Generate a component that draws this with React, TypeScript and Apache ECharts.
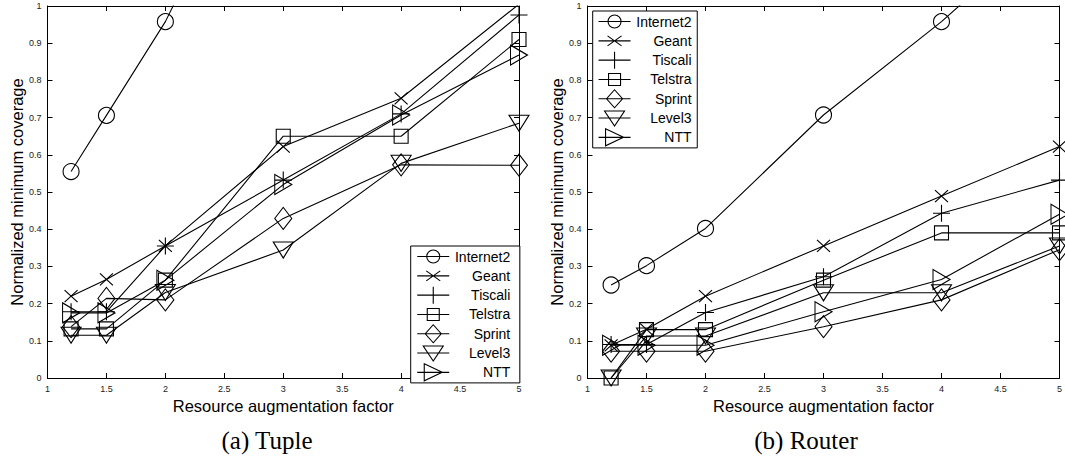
import React, { useEffect, useRef } from "react";
import * as echarts from "echarts";

// ---------------- data ----------------
const factors = [1.2, 1.5, 2, 3, 4, 5];
const seriesNames = ["Internet2", "Geant", "Tiscali", "Telstra", "Sprint", "Level3", "NTT"];

// (a) Tuple
const tupleInternet2 = [0.555, 0.706, 0.958, 1.6, 2.2, 2.8];
const tupleGeant = [0.22, 0.265, 0.355, 0.622, 0.752, 1.005];
const tupleTiscali = [0.178, 0.178, 0.355, 0.532, 0.71, 0.976];
const tupleTelstra = [0.132, 0.132, 0.263, 0.65, 0.65, 0.91];
const tupleSprint = [0.138, 0.214, 0.21, 0.429, 0.573, 0.572];
const tupleLevel3 = [0.115, 0.115, 0.23, 0.344, 0.577, 0.685];
const tupleNTT = [0.175, 0.175, 0.263, 0.52, 0.707, 0.868];

// (b) Router
const routerInternet2 = [0.25, 0.302, 0.402, 0.707, 0.958, 1.24];
const routerGeant = [0.088, 0.131, 0.22, 0.355, 0.489, 0.622];
const routerTiscali = [0.09, 0.09, 0.176, 0.272, 0.443, 0.532];
const routerTelstra = [0.0, 0.13, 0.13, 0.263, 0.39, 0.39];
const routerSprint = [0.072, 0.072, 0.072, 0.138, 0.21, 0.345];
const routerLevel3 = [0.0, 0.113, 0.113, 0.229, 0.229, 0.355];
const routerNTT = [0.088, 0.088, 0.088, 0.178, 0.265, 0.44];

const xMin = 1;
const xMax = 5;
const xStep = 0.5;
const yMin = 0;
const yMax = 1;
const yStep = 0.1;

const xTitle = "Resource augmentation factor";
const yTitle = "Normalized minimum coverage";
const captions = ["(a) Tuple", "(b) Router"];

const tupleValues = [tupleInternet2, tupleGeant, tupleTiscali, tupleTelstra, tupleSprint, tupleLevel3, tupleNTT];
const routerValues = [routerInternet2, routerGeant, routerTiscali, routerTelstra, routerSprint, routerLevel3, routerNTT];

// ---------------- styles ----------------
const SANS = '"Liberation Sans", Arial, Helvetica, sans-serif';
const SERIF = '"Liberation Serif", "Times New Roman", serif';

const markers: Record<string, { symbol: string; size: number | number[]; icon: string }> = {
  Internet2: {
    symbol: "circle",
    size: 16,
    icon: "M22.5 9 A6.5 6.5 0 1 1 9.5 9 A6.5 6.5 0 1 1 22.5 9 Z",
  },
  Geant: {
    symbol: "path://M0 0 L10 10 M10 0 L0 10",
    size: [13, 12],
    icon: "M9 4 L23 14 M23 4 L9 14",
  },
  Tiscali: {
    symbol: "path://M5 0 L5 10 M0 5 L10 5",
    size: 17,
    icon: "M16 0.5 L16 17.5",
  },
  Telstra: {
    symbol: "path://M0 0 L10 0 L10 10 L0 10 Z",
    size: 14,
    icon: "M10 3 L22 3 L22 15 L10 15 Z",
  },
  Sprint: {
    symbol: "path://M5 0 L10 5 L5 10 L0 5 Z",
    size: [17, 22],
    icon: "M16 0 L24 9 L16 18 L8 9 Z",
  },
  Level3: {
    symbol: "path://M0 0 L10 0 L5 10 Z",
    size: [20, 16],
    icon: "M6 2 L26 2 L16 17 Z",
  },
  NTT: {
    symbol: "path://M0 0 L10 5 L0 10 Z",
    size: [17, 20],
    icon: "M7 0.5 L25 9 L7 17.5 Z",
  },
};

const legendIcon = (name: string) => `path://M0 0 M32 18 M0 9 L32 9 ${markers[name].icon}`;

const grids = [
  { left: 47.5, top: 6, width: 471.5, height: 372 },
  { left: 587.5, top: 6, width: 472, height: 372 },
];

const axisLineStyle = { show: true, onZero: false, lineStyle: { color: "#000", width: 1 } };
const tickStyle = { show: true, inside: true, length: 5, lineStyle: { color: "#000", width: 1 } };

function xAxes(gi: number) {
  const common = {
    type: "value",
    gridIndex: gi,
    min: xMin,
    max: xMax,
    interval: xStep,
    axisLine: axisLineStyle,
    axisTick: tickStyle,
    splitLine: { show: false },
  };
  return [
    {
      ...common,
      position: "bottom",
      name: xTitle,
      nameLocation: "middle",
      nameGap: 16,
      nameTextStyle: { fontSize: 16.5, color: "#000", fontFamily: SANS },
      axisLabel: { fontSize: 9, color: "#222", margin: 6, fontFamily: SANS },
    },
    { ...common, position: "top", axisLabel: { show: false } },
  ];
}

function yAxes(gi: number) {
  const common = {
    type: "value",
    gridIndex: gi,
    min: yMin,
    max: yMax,
    interval: yStep,
    axisLine: axisLineStyle,
    axisTick: tickStyle,
    splitLine: { show: false },
  };
  return [
    {
      ...common,
      position: "left",
      name: yTitle,
      nameLocation: "middle",
      nameGap: 22,
      nameTextStyle: { fontSize: 16.5, color: "#000", fontFamily: SANS },
      axisLabel: { fontSize: 9, color: "#222", margin: 6, fontFamily: SANS },
    },
    { ...common, position: "right", axisLabel: { show: false } },
  ];
}

function buildSeries(values: number[][], axisIndex: number) {
  return seriesNames.map((name, k) => ({
    type: "line",
    name,
    xAxisIndex: axisIndex,
    yAxisIndex: axisIndex,
    data: factors.map((f, i) => [f, values[k][i]]),
    symbol: markers[name].symbol,
    symbolSize: markers[name].size,
    showAllSymbol: true,
    clip: true,
    lineStyle: { color: "#000", width: 1.1 },
    itemStyle: { color: "rgba(0,0,0,0)", borderColor: "#000", borderWidth: 1.1 },
    emphasis: { disabled: true },
  }));
}

function legend(left: number, top: number, padding: number[]) {
  return {
    show: true,
    orient: "vertical",
    left,
    top,
    padding,
    itemWidth: 32,
    itemHeight: 18,
    itemGap: 0.2,
    itemTextGap: 5,
    selectedMode: false,
    backgroundColor: "#fff",
    borderColor: "#000",
    borderWidth: 1,
    borderRadius: 0,
    symbolKeepAspect: true,
    itemStyle: { color: "rgba(0,0,0,0)", borderColor: "#000", borderWidth: 1.1 },
    formatter: "{r|{name}}",
    textStyle: {
      fontSize: 14,
      color: "#000",
      fontFamily: SANS,
      rich: { r: { width: 56, align: "right", fontSize: 14, color: "#000", fontFamily: SANS } },
    },
    data: seriesNames.map((name) => ({ name, icon: legendIcon(name) })),
  };
}

export default function App() {
  const ref = useRef<HTMLDivElement>(null);

  useEffect(() => {
    if (!ref.current) return;
    const chart = echarts.init(ref.current, undefined, { renderer: "svg" });
    const option: any = {
      animation: false,
      backgroundColor: "#fff",
      textStyle: { fontFamily: SANS },
      grid: grids,
      xAxis: [...xAxes(0), ...xAxes(1)],
      yAxis: [...yAxes(0), ...yAxes(1)],
      legend: [legend(410.7, 246, [1, 9.6, 1, 6]), legend(592.7, 11, [1, 5.7, 1, 5.3])],
      series: [...buildSeries(tupleValues, 0), ...buildSeries(routerValues, 2)],
      graphic: [
        {
          type: "text",
          x: 267,
          y: 440,
          style: { text: captions[0], fontSize: 25, fontFamily: SERIF, fill: "#000", align: "center", verticalAlign: "middle" },
        },
        {
          type: "text",
          x: 806,
          y: 440,
          style: { text: captions[1], fontSize: 25, fontFamily: SERIF, fill: "#000", align: "center", verticalAlign: "middle" },
        },
      ],
    };
    chart.setOption(option);
    return () => chart.dispose();
  }, []);

  return (
    <div
      ref={ref}
      style={{ position: "absolute", left: 0, top: 0, width: 1065, height: 461, background: "#fff" }}
    />
  );
}
